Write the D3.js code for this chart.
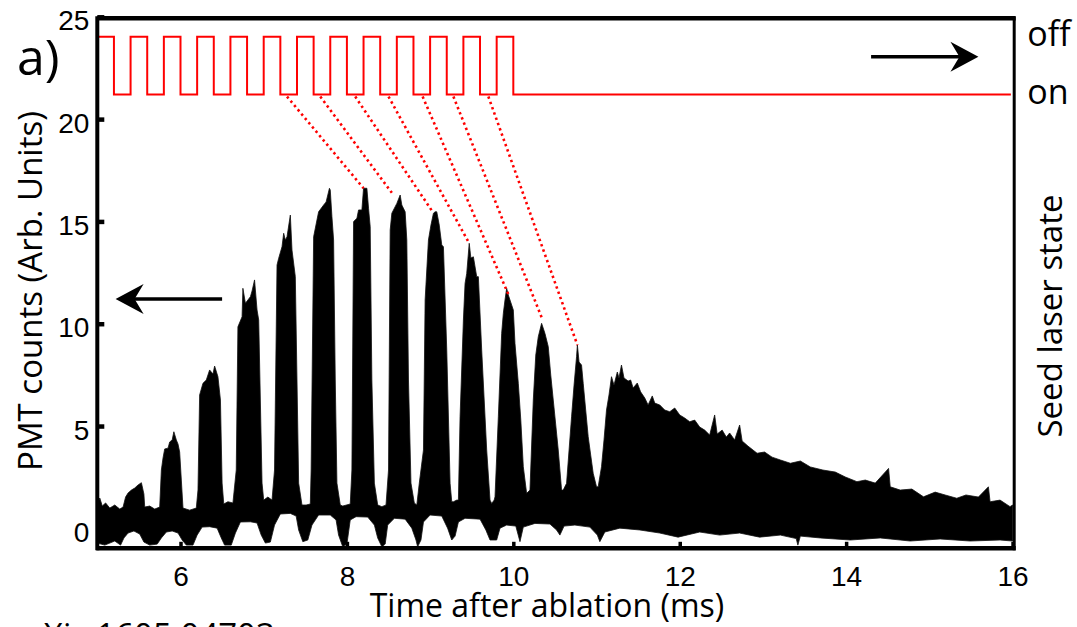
<!DOCTYPE html>
<html>
<head>
<meta charset="utf-8">
<script src="https://d3js.org/d3.v7.min.js"></script>
<style>
  body { margin: 0; background: #fff; }
  svg { font-family: "Open Sans", "DejaVu Sans", sans-serif; }
  .tick text { font-size: 28px; fill: #000; }
  .lbl { font-size: 33px; fill: #000; }
</style>
</head>
<body>
<div id="chart"></div>
<script>
// ticks
var xTicks = [6, 8, 10, 12, 14, 16];
var yTicks = [0, 5, 10, 15, 20, 25];

// PMT signal, upper edge of the black trace (time ms, counts)
var sigUpT = [5.00,5.03,5.06,5.10,5.15,5.21,5.27,5.31,5.34,5.37,5.41,5.45,5.49,5.53,5.56,5.57,5.63,5.69,5.75,
  5.77,5.79,5.81,5.85,5.87,5.90,5.92,5.95,5.97,5.99,6.01,6.03,6.11,6.19,
  6.21,6.23,6.27,6.31,6.35,6.39,6.41,6.45,6.48,6.50,6.52,6.57,6.63,
  6.67,6.69,6.74,6.75,6.78,6.84,6.86,6.89,6.92,6.94,6.98,7.00,7.05,7.10,
  7.13,7.16,7.18,7.22,7.24,7.26,7.28,7.32,7.34,7.38,7.40,7.42,7.46,7.51,7.56,
  7.57,7.60,7.64,7.66,7.72,7.75,7.79,7.80,7.82,7.84,7.86,7.88,7.92,7.95,8.04,
  8.06,8.08,8.12,8.14,8.18,8.20,8.24,8.26,8.28,8.30,8.33,8.37,8.42,8.47,
  8.50,8.52,8.54,8.60,8.64,8.66,8.70,8.72,8.74,8.77,8.81,8.84,
  8.87,8.92,8.94,8.98,9.01,9.04,9.06,9.08,9.11,9.14,9.16,9.20,9.24,9.26,9.28,9.32,
  9.34,9.36,9.40,9.42,9.44,9.47,9.49,9.52,9.56,9.58,9.62,9.65,9.68,9.72,9.74,9.77,
  9.78,9.82,9.86,9.88,9.90,9.92,9.94,9.96,10.00,10.02,10.06,10.09,10.12,10.16,
  10.20,10.24,10.27,10.30,10.34,10.38,10.42,10.45,10.48,10.51,10.54,10.58,
  10.60,10.64,10.67,10.70,10.73,10.76,10.77,10.79,10.82,10.84,10.87,10.90,10.93,10.96,11.00,11.02,
  11.06,11.09,11.12,11.15,11.18,11.21,11.25,11.27,11.30,11.33,11.38,11.41,11.44,11.49,11.53,11.58,
  11.62,11.67,11.70,11.76,11.82,11.88,11.94,12.00,12.06,12.12,12.18,12.24,12.30,12.36,12.42,12.45,
  12.51,12.56,12.60,12.66,12.72,12.75,12.82,12.93,13.02,13.11,13.21,13.33,13.45,13.57,13.72,13.87,
  13.99,14.13,14.23,14.35,14.51,14.53,14.65,14.79,14.93,15.07,15.19,15.33,15.44,15.59,15.71,15.73,
  15.85,15.97,16.00];
var sigUpV = [1.14,1.48,1.09,1.24,0.99,1.14,0.94,1.04,1.53,1.73,1.87,1.97,2.12,2.23,1.68,1.04,1.09,0.94,1.04,
  2.85,3.44,3.88,3.92,4.22,4.32,4.72,4.32,4.12,3.73,2.36,0.99,0.89,0.99,
  1.87,6.52,7.09,7.25,7.74,7.54,7.93,7.41,6.27,2.21,1.19,1.30,1.24,
  2.85,9.85,10.34,11.73,11.00,11.32,11.60,12.14,10.67,10.18,2.21,1.38,1.53,1.38,
  2.85,12.87,13.20,13.76,14.42,14.09,14.25,15.31,13.60,12.30,7.25,2.21,1.14,1.14,1.19,
  2.85,14.25,15.07,15.47,15.80,15.95,16.62,16.53,15.23,14.09,7.25,2.21,1.14,1.09,1.19,
  2.85,14.99,15.15,15.56,15.56,16.62,16.62,15.64,14.74,7.25,2.21,1.14,1.06,1.14,
  2.85,14.58,15.40,15.88,16.29,15.80,15.47,14.09,7.25,2.21,1.24,1.14,
  2.21,3.83,11.16,14.09,14.82,15.40,15.47,15.47,14.82,13.85,13.76,8.71,2.20,1.30,1.30,1.38,
  1.38,5.45,10.18,11.97,12.46,13.93,13.21,13.27,12.30,12.30,8.71,6.27,3.83,1.38,1.22,1.38,
  1.54,5.45,9.53,10.51,11.16,11.73,11.40,11.16,10.67,9.04,7.09,5.29,3.01,1.71,
  1.87,6.27,8.47,9.36,10.02,9.53,8.88,7.49,6.27,5.05,3.83,1.87,
  1.87,2.20,3.83,5.45,7.00,8.39,8.96,8.13,7.98,7.09,5.78,4.48,3.58,2.69,2.03,2.03,
  3.01,4.32,5.78,6.52,7.41,7.00,7.64,7.35,7.98,7.35,7.20,7.25,6.86,7.10,6.67,6.37,
  6.03,6.47,6.12,6.03,5.78,5.70,5.88,5.54,5.39,5.21,5.29,4.95,4.80,4.56,5.54,4.61,
  4.80,4.46,4.66,4.32,5.05,4.27,4.02,3.67,3.73,3.48,3.34,3.18,3.29,3.00,2.85,2.75,
  2.51,2.28,2.36,2.21,2.93,2.03,1.87,1.92,1.54,1.77,1.63,1.47,1.63,1.53,2.03,1.30,
  1.38,1.06,1.14];

// lower edge of the black trace
var sigLoT = [5.00,5.09,5.21,5.28,5.32,5.37,5.44,5.51,5.56,5.63,5.72,5.77,5.83,5.90,5.97,6.02,6.07,6.15,
  6.20,6.26,6.35,6.44,6.49,6.53,6.61,6.66,6.72,6.84,6.92,6.97,7.02,7.08,7.13,7.20,7.32,7.39,7.42,
  7.47,7.53,7.58,7.66,7.80,7.87,7.90,7.95,8.00,8.04,8.11,8.25,8.33,8.37,8.42,8.46,8.49,8.57,8.70,
  8.78,8.83,8.85,8.89,8.92,9.00,9.14,9.21,9.26,9.30,9.34,9.42,9.60,9.67,9.72,9.80,9.84,9.92,10.03,
  10.08,10.12,10.26,10.44,10.52,10.56,10.61,10.74,10.92,11.01,11.04,11.10,11.28,11.52,11.76,11.98,
  12.24,12.48,12.72,12.96,13.21,13.40,13.42,13.45,13.69,14.05,14.41,14.77,15.13,15.49,15.85,16.00];
var sigLoV = [-0.72,-0.82,-0.62,-0.82,-0.47,-0.23,-0.13,-0.28,-0.67,-0.82,-0.77,-0.47,-0.18,-0.13,-0.23,-0.57,-0.82,-0.82,
  -0.33,0.06,0.08,0.01,-0.47,-0.82,-0.82,-0.23,0.31,0.32,0.26,-0.33,-0.72,-0.67,0.16,0.70,0.73,0.60,-0.08,
  -0.65,-0.57,0.16,0.65,0.65,0.41,-0.33,-0.90,-0.77,0.41,0.57,0.55,0.16,-0.47,-0.90,-0.77,0.16,0.49,0.45,
  0.01,-0.57,-0.90,-0.57,0.31,0.65,0.60,0.01,-0.57,-0.38,0.31,0.49,0.45,-0.08,-0.57,-0.57,0.01,0.16,0.11,
  -0.65,0.06,0.24,0.21,-0.08,-0.33,0.11,0.16,0.06,-0.33,-0.65,-0.18,0.01,-0.08,-0.23,-0.43,
  -0.18,-0.33,-0.23,-0.43,-0.33,-0.50,-0.82,-0.38,-0.47,-0.57,-0.47,-0.62,-0.52,-0.62,-0.57,-0.62];

// seed laser state (step after each time)
var laserT = [5.0,5.2,5.4,5.6,5.8,6.0,6.2,6.4,6.6,6.8,7.0,7.2,7.4,7.6,7.8,8.0,8.2,8.4,8.6,8.8,9.0,9.2,9.4,9.6,9.8,10.0,15.98];
var laserS = ["off","on","off","on","off","on","off","on","off","on","off","on","off","on","off","on","off","on","off","on","off","on","off","on","off","on","on"];
var stateNames = ["off", "on"];
var stateLevel = [24.03, 21.2];   // where each state sits on the left axis

// dotted links: laser switch-on -> matching fluorescence peak
var linkT0 = [7.28, 7.68, 8.10, 8.50, 8.91, 9.28, 9.70];
var linkT1 = [8.20, 8.56, 9.03, 9.47, 9.95, 10.35, 10.77];
var linkV1 = [16.62, 16.29, 15.47, 13.93, 11.35, 10.21, 8.96];

var W = 1077, H = 627;
var svg = d3.select("#chart").append("svg").attr("width", W).attr("height", H);

var x = d3.scaleLinear().domain([5, 16.02]).range([97.3, 1014.2]);
var y = d3.scaleLinear().domain([-1, 25]).range([548.8, 16.8]);
var ys = d3.scaleOrdinal().domain(stateNames).range(stateLevel.map(function(v){ return y(v); }));

svg.append("clipPath").attr("id", "clip").append("rect")
  .attr("x", x(5)).attr("y", y(25)).attr("width", x(16.02) - x(5)).attr("height", y(-1) - y(25));

var plot = svg.append("g").attr("clip-path", "url(#clip)");

// black PMT trace as filled band
var pts = sigUpT.map(function(t, i){ return [x(t), y(sigUpV[i])]; })
  .concat(sigLoT.map(function(t, i){ return [x(t), y(sigLoV[i])]; }).reverse());
plot.append("path")
  .attr("d", d3.line()(pts) + "Z")
  .attr("fill", "#000").attr("stroke", "#111").attr("stroke-width", 0.8);

// laser state square wave
var laser = laserT.map(function(t, i){ return {t: t, s: laserS[i]}; });
plot.append("path")
  .datum(laser)
  .attr("d", d3.line().x(function(d){ return x(d.t); }).y(function(d){ return ys(d.s); }).curve(d3.curveStepAfter))
  .attr("fill", "none").attr("stroke", "#ff0000").attr("stroke-width", 2);

// dotted links
plot.selectAll(".link").data(linkT0).enter().append("line")
  .attr("x1", function(d){ return x(d); })
  .attr("y1", ys("on") + 2)
  .attr("x2", function(d, i){ return x(linkT1[i]); })
  .attr("y2", function(d, i){ return y(linkV1[i]); })
  .attr("stroke", "#ff0000").attr("stroke-width", 2.6)
  .attr("stroke-dasharray", "2.4,3.2");

// axes
var gx = svg.append("g").attr("transform", "translate(0," + y(-1) + ")")
  .call(d3.axisBottom(x).tickValues(xTicks).tickSize(-7).tickPadding(17));
gx.select(".domain").remove();
gx.selectAll(".tick line").attr("stroke", "#000").attr("stroke-width", 3.5);

var gy = svg.append("g").attr("transform", "translate(" + x(5) + ",0)")
  .call(d3.axisLeft(y).tickValues(yTicks).tickSize(-7).tickPadding(8));
gy.select(".domain").remove();
gy.selectAll(".tick line").attr("stroke", "#000").attr("stroke-width", 4.5);
gy.selectAll(".tick text").attr("dy", "0.47em");

// right state labels
svg.selectAll(".state").data(stateNames).enter().append("text")
  .attr("class", "lbl")
  .attr("x", x(16.02) + 13)
  .attr("y", function(d){ return ys(d); })
  .attr("dy", "0.27em")
  .style("font-size", "34px")
  .text(function(d){ return d; });

// spines
svg.append("line").attr("x1", x(5)).attr("x2", x(16.02) + 1.5).attr("y1", y(25) + 1.5).attr("y2", y(25) + 1.5)
  .attr("stroke", "#000").attr("stroke-width", 4.5);
svg.append("line").attr("x1", x(5) - 1).attr("x2", x(16.02) + 1.5).attr("y1", y(-1) - 0.5).attr("y2", y(-1) - 0.5)
  .attr("stroke", "#000").attr("stroke-width", 4.5);
svg.append("line").attr("x1", x(5)).attr("x2", x(5)).attr("y1", y(25) - 0.5).attr("y2", y(-1) + 1.5)
  .attr("stroke", "#000").attr("stroke-width", 4);
svg.append("line").attr("x1", x(16.02)).attr("x2", x(16.02)).attr("y1", y(25)).attr("y2", y(-1) + 1.5)
  .attr("stroke", "#000").attr("stroke-width", 3);

// arrows
function arrow(t0, t1, v) {
  var x0 = x(t0), x1 = x(t1), yy = y(v);
  var dir = x1 > x0 ? 1 : -1;
  svg.append("line").attr("x1", x0).attr("x2", x1 - dir * 18).attr("y1", yy).attr("y2", yy)
    .attr("stroke", "#000").attr("stroke-width", 3.5);
  svg.append("path")
    .attr("d", "M" + x1 + "," + yy +
      "L" + (x1 - dir * 28) + "," + (yy - 15) +
      "L" + (x1 - dir * 19) + "," + yy +
      "L" + (x1 - dir * 28) + "," + (yy + 15) + "Z")
    .attr("fill", "#000");
}
arrow(14.30, 15.59, 23.05);
arrow(6.50, 5.22, 11.21);

// labels
svg.append("text").attr("class", "lbl").attr("x", 17).attr("y", 75).style("font-size", "50px").text("a)");
svg.append("text").attr("class", "lbl")
  .attr("text-anchor", "middle")
  .attr("transform", "translate(42,291) rotate(-90)")
  .text("PMT counts (Arb. Units)");
svg.append("text").attr("class", "lbl")
  .attr("text-anchor", "middle")
  .attr("transform", "translate(1062,316) rotate(-90)")
  .text("Seed laser state");
svg.append("text").attr("class", "lbl")
  .attr("text-anchor", "middle")
  .attr("x", 547).attr("y", 617)
  .style("font-size", "32px")
  .text("Time after ablation (ms)");
svg.append("text").attr("class", "lbl")
  .attr("x", 12).attr("y", 647)
  .style("font-size", "33px")
  .text("arXiv:1605.04703");
</script>
</body>
</html>
